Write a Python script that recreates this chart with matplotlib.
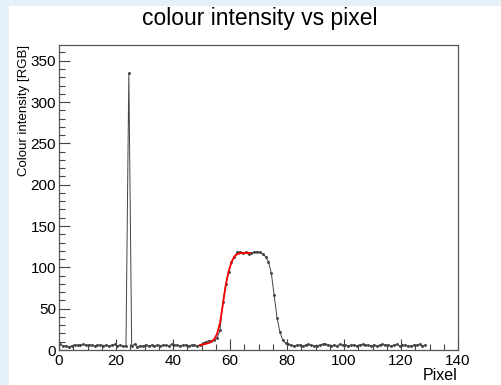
import numpy as np
import matplotlib.pyplot as plt
from matplotlib.patches import Rectangle
from matplotlib.ticker import MultipleLocator

plt.rcParams['font.family'] = ['Liberation Sans', 'DejaVu Sans']

# histogram contents, one value per pixel bin (0..127)
baseline_left = [7, 5, 5, 4, 5, 6, 6, 6, 7, 6, 6, 6, 5, 6, 6, 5, 6, 5, 6, 7, 5, 6, 5, 5]
spike = [335]
baseline_mid = [5, 7, 4, 5, 5, 6, 5, 6, 5, 6, 5, 6, 6, 5, 7, 6, 6, 5, 6, 6, 5, 6, 6, 5, 6]
bump = [8, 10, 11, 11, 12, 15, 24, 58, 80, 94, 106, 113, 118, 119, 117, 118, 116, 117,
        119, 119, 118, 116, 113, 107, 93, 66, 39, 22, 12, 8, 7]
baseline_right = [6, 5, 6, 6, 5, 6, 7, 6, 5, 5, 6, 7, 7, 6, 5, 6, 5, 7, 6, 6, 5, 6, 6, 5,
                  6, 7, 6, 6, 5, 6, 5, 6, 7, 6, 6, 5, 6, 7, 5, 6, 6, 5, 5, 6, 6, 7, 5, 6]
counts = baseline_left + spike + baseline_mid + bump + baseline_right
pixels = np.arange(len(counts)) + 0.5

# fitted edge (red)
fit_x = [49.5, 51, 53, 54.5, 55.5, 56.5, 57.5, 58.5, 59.5, 60.5, 61.5, 62.5, 63.5, 65, 67]
fit_y = [6, 7, 9, 13, 20, 33, 55, 78, 95, 106, 113, 116, 117, 117.5, 117.5]

fig = plt.figure(figsize=(5.01, 3.85), dpi=100)
fig.patch.set_facecolor('#e4f1f9')
fig.add_artist(Rectangle((9 / 501, 0), 1, 1 - 6 / 385, transform=fig.transFigure,
                         facecolor='white', edgecolor='none', zorder=-1))

ax = fig.add_axes([59 / 501, 35 / 385, 399 / 501, 305 / 385])
ax.plot(pixels, counts, color='#444444', lw=0.7, marker='.', ms=2.2)
ax.plot(fit_x, fit_y, color='red', lw=1.3)

ax.set_xlim(0, 140)
ax.set_ylim(0, 369)
ax.xaxis.set_major_locator(MultipleLocator(20))
ax.xaxis.set_minor_locator(MultipleLocator(5))
ax.yaxis.set_major_locator(MultipleLocator(50))
ax.yaxis.set_minor_locator(MultipleLocator(10))
ax.tick_params(which='both', direction='in', top=False, right=False,
               labelsize=11, color='#444444')
ax.tick_params(which='major', length=8, width=0.8)
ax.tick_params(which='minor', length=4, width=0.8)
ax.tick_params(axis='x', pad=3)
ax.tick_params(axis='y', pad=2)
for s in ax.spines.values():
    s.set_color('#555555')
    s.set_linewidth(0.9)

fig.text(260 / 501, 1 - 19 / 385, 'colour intensity vs pixel', ha='center', va='center',
         fontsize=16.5)
fig.text(24 / 501, 1 - 45 / 385, 'Colour intensity [RGB]', rotation=90,
         ha='center', va='top', fontsize=9.5)
fig.text(457 / 501, 1 - 375 / 385, 'Pixel', ha='right', va='center', fontsize=11.5)

fig.savefig('out.png', dpi=100, facecolor=fig.get_facecolor())
